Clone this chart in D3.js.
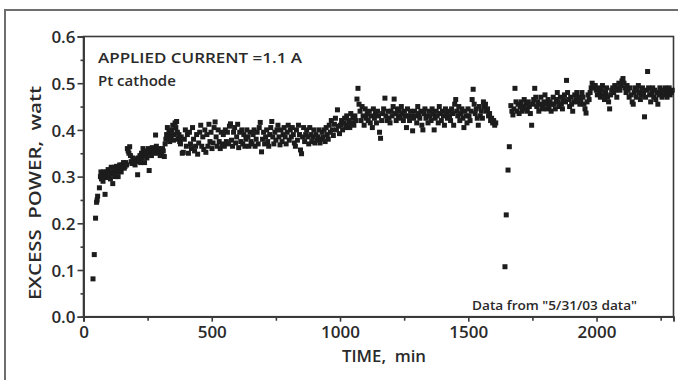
<!DOCTYPE html>
<html><head><meta charset="utf-8">
<script src="https://cdn.jsdelivr.net/npm/d3@7"></script>
<style>body{margin:0;background:#fff}svg{display:block}text{font-family:"Open Sans","DejaVu Sans",sans-serif;font-weight:600;fill:#2a2a2a}</style>
</head><body><svg id="c" width="678" height="380"></svg>
<script>
// ---- data (time in min, excess power in watt) ----
const rampUp = [[37,0.081],[42,0.133],[47,0.211],[51,0.245],[53,0.25],[55,0.258],[62,0.276],[66,0.30],[68,0.31],[70,0.295],[73,0.305],[76,0.29],[78,0.31],[81,0.30],[84,0.262],[87,0.305],[90,0.31],[93,0.298],[96,0.315],[99,0.30],[102,0.31],[105,0.295]];
const phase1 = [[108,0.32],[111,0.305],[114,0.285],[117,0.31],[120,0.32],[123,0.30],[126,0.315],[129,0.322],[132,0.31],[135,0.30],[138,0.318],[141,0.325],[144,0.32],[147,0.31],[150,0.325],[153,0.32],[156,0.33],[159,0.318],[162,0.322],[165,0.33],[168,0.325],[171,0.36],[174,0.355],[177,0.35],[180,0.364],[183,0.345],[186,0.332],[189,0.328],[192,0.34],[195,0.335],[198,0.33],[201,0.325],[204,0.338],[207,0.332],[211,0.304],[214,0.34],[217,0.335],[220,0.345],[223,0.33],[226,0.35],[229,0.34],[232,0.36],[235,0.345],[238,0.33],[241,0.355],[244,0.348],[247,0.34],[250,0.352],[253,0.36],[256,0.313],[259,0.35],[262,0.358],[265,0.345],[268,0.362],[271,0.355],[274,0.35],[277,0.36],[281,0.389],[284,0.365],[287,0.355],[290,0.35],[293,0.36],[296,0.352],[299,0.345],[302,0.358],[305,0.35],[308,0.36],[311,0.355],[315,0.343],[318,0.37],[321,0.38],[324,0.39],[327,0.405],[330,0.38],[333,0.395],[336,0.375],[339,0.39],[342,0.385],[345,0.4],[348,0.41],[351,0.378],[354,0.39],[357,0.415],[360,0.405],[363,0.418],[366,0.395],[369,0.38],[372,0.39],[375,0.375],[378,0.37],[381,0.385],[385,0.35]];
const phase2 = [[389,0.352],[393,0.38],[397,0.40],[401,0.365],[405,0.39],[409,0.35],[413,0.395],[417,0.37],[421,0.36],[425,0.405],[429,0.38],[433,0.355],[437,0.365],[441,0.39],[445,0.348],[449,0.372],[453,0.395],[457,0.41],[461,0.365],[465,0.385],[469,0.358],[473,0.40],[477,0.352],[481,0.39],[485,0.365],[489,0.412],[493,0.375],[497,0.395],[501,0.36],[505,0.372],[509,0.405],[513,0.417],[517,0.385],[521,0.365],[525,0.40],[529,0.375],[533,0.36],[537,0.395],[541,0.37],[545,0.39],[549,0.365],[553,0.40],[557,0.375],[561,0.395],[565,0.37],[569,0.408],[573,0.413],[577,0.378],[581,0.365],[585,0.395],[589,0.405],[593,0.372],[597,0.385],[601,0.412],[605,0.362],[609,0.395],[613,0.375],[617,0.40],[621,0.37],[625,0.39],[629,0.365],[633,0.38],[637,0.40],[641,0.385],[645,0.365],[649,0.395],[653,0.375],[657,0.37],[661,0.39],[665,0.40],[669,0.365],[673,0.38],[677,0.395],[681,0.37],[685,0.405],[689,0.416],[694,0.353],[698,0.38]];
const phase3 = [[702,0.395],[706,0.37],[710,0.385],[714,0.40],[718,0.375],[722,0.365],[726,0.39],[730,0.405],[734,0.418],[738,0.385],[742,0.37],[746,0.395],[750,0.378],[754,0.40],[758,0.41],[762,0.385],[766,0.368],[770,0.40],[774,0.375],[778,0.39],[782,0.405],[786,0.385],[790,0.37],[794,0.395],[798,0.41],[802,0.378],[806,0.40],[810,0.385],[814,0.405],[818,0.39],[822,0.372],[826,0.365],[830,0.40],[834,0.378],[838,0.41],[842,0.39],[846,0.357],[850,0.349],[854,0.385],[858,0.405],[862,0.375],[866,0.39],[870,0.40],[874,0.385],[878,0.37],[882,0.405],[886,0.39],[890,0.375],[894,0.385],[898,0.40],[902,0.372],[906,0.39],[910,0.378],[914,0.385],[918,0.40],[922,0.372],[926,0.38],[930,0.395],[934,0.385],[938,0.40],[942,0.375],[946,0.405],[950,0.39],[954,0.38],[958,0.41],[962,0.395],[966,0.42],[970,0.40],[974,0.388],[978,0.412],[982,0.425],[986,0.40],[990,0.443],[994,0.408],[998,0.392]];
const phase4 = [[1002,0.41],[1006,0.42],[1010,0.40],[1014,0.415],[1018,0.425],[1022,0.405],[1026,0.43],[1030,0.41],[1034,0.42],[1038,0.405],[1042,0.435],[1046,0.415],[1050,0.425],[1054,0.41],[1058,0.43],[1062,0.42],[1066,0.466],[1070,0.489],[1074,0.455],[1078,0.44],[1082,0.42],[1086,0.45],[1090,0.43],[1094,0.41],[1098,0.445],[1102,0.425],[1106,0.435],[1110,0.42],[1114,0.44],[1118,0.415],[1122,0.43],[1126,0.405],[1130,0.445],[1134,0.425],[1138,0.435],[1142,0.415],[1146,0.44],[1150,0.43],[1154,0.395],[1158,0.382],[1162,0.42],[1166,0.435],[1170,0.445],[1175,0.468],[1179,0.43],[1183,0.42],[1187,0.44],[1191,0.425],[1195,0.415],[1199,0.44],[1203,0.43],[1207,0.45],[1211,0.466],[1215,0.435],[1219,0.42],[1223,0.445],[1227,0.43],[1231,0.44],[1235,0.425],[1239,0.45],[1243,0.435],[1247,0.42],[1251,0.44],[1255,0.43],[1259,0.405],[1263,0.445],[1267,0.43],[1271,0.42],[1275,0.44],[1279,0.43],[1283,0.398],[1287,0.425],[1291,0.44],[1295,0.43],[1299,0.415],[1303,0.45],[1307,0.435],[1311,0.425],[1315,0.44],[1319,0.41],[1323,0.40],[1327,0.435],[1331,0.445],[1335,0.425],[1339,0.43],[1343,0.415],[1347,0.44],[1351,0.43],[1355,0.42],[1359,0.445],[1363,0.435],[1367,0.40],[1371,0.425],[1375,0.44],[1379,0.43],[1383,0.415],[1387,0.45],[1391,0.435],[1395,0.42],[1399,0.44],[1403,0.43],[1407,0.41],[1411,0.445],[1415,0.435],[1419,0.425],[1423,0.44],[1427,0.43],[1431,0.42],[1435,0.445],[1439,0.435],[1443,0.41],[1447,0.455],[1451,0.465],[1455,0.44],[1459,0.43],[1463,0.45],[1467,0.42],[1471,0.435],[1475,0.445],[1479,0.425],[1483,0.405],[1487,0.44],[1491,0.43],[1495,0.415],[1499,0.445],[1503,0.43],[1507,0.42],[1511,0.44],[1515,0.465],[1519,0.487],[1523,0.455],[1527,0.435],[1531,0.445],[1535,0.425],[1539,0.41],[1543,0.45],[1547,0.43],[1551,0.44],[1555,0.425],[1559,0.46],[1563,0.45],[1567,0.455],[1571,0.44],[1575,0.445],[1579,0.43],[1583,0.435],[1587,0.42],[1591,0.425],[1595,0.415],[1599,0.42],[1603,0.41],[1607,0.415]];
const restartDip = [[1643,0.107],[1648,0.218],[1655,0.314],[1660,0.364]];
const phase5 = [[1666,0.452],[1670,0.44],[1674,0.432],[1678,0.445],[1682,0.489],[1686,0.46],[1690,0.44],[1694,0.455],[1698,0.435],[1702,0.45],[1706,0.46],[1710,0.44],[1714,0.45],[1718,0.465],[1722,0.445],[1726,0.455],[1730,0.44],[1734,0.46],[1738,0.45],[1742,0.435],[1747,0.41],[1751,0.455],[1755,0.465],[1759,0.489],[1763,0.47],[1767,0.45],[1771,0.46],[1775,0.44],[1779,0.455],[1783,0.47],[1787,0.45],[1791,0.445],[1795,0.46],[1799,0.475],[1803,0.455],[1807,0.445],[1811,0.465],[1815,0.45],[1819,0.46],[1823,0.44],[1827,0.455],[1831,0.47],[1835,0.455],[1839,0.445],[1843,0.465],[1847,0.48],[1851,0.46],[1855,0.45],[1859,0.47],[1863,0.455],[1867,0.445],[1871,0.465],[1875,0.475],[1879,0.46],[1883,0.506],[1887,0.48],[1891,0.465],[1895,0.45],[1899,0.47],[1903,0.455],[1907,0.44],[1911,0.46],[1915,0.475],[1919,0.465],[1923,0.48],[1927,0.46],[1931,0.47],[1935,0.455],[1939,0.465],[1943,0.48],[1947,0.47],[1951,0.455],[1955,0.445],[1959,0.436],[1963,0.46],[1967,0.475],[1971,0.465],[1975,0.48],[1979,0.49],[1983,0.50],[1987,0.495],[1991,0.49],[1995,0.495],[1999,0.485],[2003,0.475],[2007,0.49],[2011,0.48],[2015,0.47],[2019,0.485],[2023,0.495],[2027,0.475],[2031,0.465],[2035,0.48],[2039,0.49],[2043,0.47],[2047,0.46],[2051,0.445],[2055,0.475],[2059,0.485],[2063,0.49],[2067,0.48],[2071,0.495],[2075,0.485],[2079,0.47],[2083,0.49],[2087,0.50],[2091,0.485],[2095,0.495],[2099,0.505],[2103,0.51],[2107,0.50],[2111,0.49],[2115,0.48],[2119,0.495],[2123,0.485],[2127,0.47],[2131,0.49],[2135,0.475],[2139,0.46],[2143,0.455],[2147,0.48],[2151,0.49],[2155,0.47],[2159,0.485],[2163,0.495],[2167,0.48],[2171,0.465],[2175,0.475],[2179,0.49],[2183,0.48],[2187,0.428],[2191,0.47],[2195,0.485],[2199,0.525],[2203,0.49],[2207,0.475],[2211,0.46],[2215,0.48],[2219,0.49],[2223,0.47],[2227,0.485],[2231,0.465],[2235,0.48],[2239,0.455],[2243,0.475],[2247,0.49],[2251,0.48],[2255,0.47],[2259,0.485],[2263,0.475],[2267,0.49],[2271,0.48],[2275,0.47],[2279,0.485],[2283,0.49],[2287,0.475],[2291,0.48],[2295,0.485]];
const xTicks = [0, 500, 1000, 1500, 2000];
const xMinor = [250, 750, 1250, 1750, 2250];
const yTicks = [0, 0.1, 0.2, 0.3, 0.4, 0.5, 0.6];
const yMinor = [0.05, 0.15, 0.25, 0.35, 0.45, 0.55];
const notes = ["APPLIED CURRENT =1.1 A", "Pt cathode"];
const source = "Data from \"5/31/03 data\"";
const xTitle = "TIME,  min";
const yTitle = "EXCESS  POWER,  watt";

const allPts = [].concat(rampUp, phase1, phase2, phase3, phase4, restartDip, phase5);

const svg = d3.select("#c");
const L = 83.5, R = 673.5, T = 36.5, B = 316.7;
const x = d3.scaleLinear().domain([0, 2300]).range([L, R]);
const y = d3.scaleLinear().domain([0, 0.6]).range([B, T]);

// outer frame (scan border)
svg.append("path").attr("d", `M5,380 V10 H678`).attr("fill","none").attr("stroke","#6e6e6e").attr("stroke-width",2);

// plot box
svg.append("rect").attr("x",L).attr("y",T).attr("width",R-L).attr("height",B-T)
  .attr("fill","none").attr("stroke","#3a3a3a").attr("stroke-width",1.6);

// axes
const xa = svg.append("g").attr("transform",`translate(0,${B})`)
  .call(d3.axisBottom(x).tickValues(xTicks).tickSize(5).tickPadding(4).tickFormat(d3.format("d")));
const xm = svg.append("g").attr("transform",`translate(0,${B})`)
  .call(d3.axisBottom(x).tickValues(xMinor).tickSize(4).tickFormat(""));
const ya = svg.append("g").attr("transform",`translate(${L},0)`)
  .call(d3.axisLeft(y).tickValues(yTicks).tickSize(6).tickPadding(2).tickFormat(d3.format(".1f")));
const ym = svg.append("g").attr("transform",`translate(${L},0)`)
  .call(d3.axisLeft(y).tickValues(yMinor).tickSize(3).tickFormat(""));
[xa,xm,ya,ym].forEach(g=>{
  g.select(".domain").attr("stroke","#3a3a3a").attr("stroke-width",1.6);
  g.selectAll(".tick line").attr("stroke","#3a3a3a").attr("stroke-width",1.6);
});
xa.selectAll(".tick text").attr("font-size",17).attr("font-family",null).attr("fill","#333");
ya.selectAll(".tick text").attr("font-size",17).attr("font-family",null).attr("fill","#333").attr("dy","0.36em");

// points
svg.append("g").selectAll("rect").data(allPts).join("rect")
  .attr("x", d => x(d[0]) - 2.5).attr("y", d => y(d[1]) - 2.5)
  .attr("width", 5).attr("height", 5).attr("fill", "#1c1c1c");

// titles
svg.append("text").attr("x",384).attr("y",362).attr("text-anchor","middle")
  .attr("font-size",16).attr("fill","#333").style("white-space","pre")
  .attr("textLength",84).attr("lengthAdjust","spacingAndGlyphs").text(xTitle);
svg.append("text").attr("transform","translate(41,193) rotate(-90)").attr("text-anchor","middle")
  .attr("font-size",17).attr("fill","#333").style("white-space","pre")
  .attr("textLength",214).attr("lengthAdjust","spacingAndGlyphs").text(yTitle);

// annotations
svg.append("text").attr("x",98).attr("y",63).attr("font-size",15).attr("fill","#333")
  .attr("textLength",204).attr("lengthAdjust","spacingAndGlyphs").text(notes[0]);
svg.append("text").attr("x",98).attr("y",86).attr("font-size",15).attr("fill","#333").text(notes[1]);
svg.append("text").attr("x",472).attr("y",310).attr("font-size",12).attr("fill","#333")
  .attr("textLength",165).attr("lengthAdjust","spacingAndGlyphs").text(source);
</script></body></html>
